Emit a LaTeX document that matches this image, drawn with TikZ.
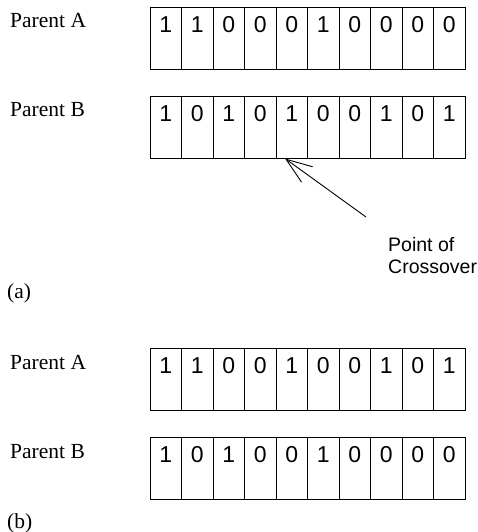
\documentclass[tikz,border=0pt]{standalone}
\usepackage{fontspec}
\setmainfont{Liberation Serif}
\setsansfont{Liberation Sans}
\usetikzlibrary{arrows.meta}
\newcommand\chromrow[3]{%
  \foreach \d [count=\i] in {#3} {
    \node[cell, anchor=north west] (#1-\i) at ({149.5pt+(\i-1)*31.5pt}, #2) {\d};
  }}
\begin{document}
\begin{tikzpicture}[x=1pt,y=1pt,
  cell/.style={draw, line width=0.9pt, inner sep=0pt, minimum width=31.5pt,
    text height=25.5pt, text depth=36.5pt, font=\sffamily\fontsize{23pt}{25pt}\selectfont},
  lbl/.style={anchor=base west, inner sep=0pt, font=\rmfamily\fontsize{21.5pt}{24pt}\selectfont},
  note/.style={anchor=base west, inner sep=0pt, font=\sffamily\fontsize{19.5pt}{22pt}\selectfont}]
\useasboundingbox (0,0) rectangle (477,-532);
% (a)
\node[lbl] (pa1) at (10,-28) {Parent A};
\chromrow{aA}{-7pt}{1,1,0,0,0,1,0,0,0,0}
\node[lbl] (pb1) at (10,-117) {Parent B};
\chromrow{aB}{-96pt}{1,0,1,0,1,0,0,1,0,1}
\coordinate (tip) at (285,-158.5);
\coordinate (tail) at (366,-217);
\draw[line width=0.9pt, -{Straight Barb[length=26pt,width=19pt,line width=0.9pt]}] (tail) -- (tip);
\node[note] (poc1) at (388,-251) {Point of};
\node[note] (poc2) at (388,-273) {Crossover};
\node[lbl] (la) at (7,-298) {(a)};
% (b)
\node[lbl] (pa2) at (10,-369) {Parent A};
\chromrow{bA}{-348pt}{1,1,0,0,1,0,0,1,0,1}
\node[lbl] (pb2) at (10,-458) {Parent B};
\chromrow{bB}{-437pt}{1,0,1,0,0,1,0,0,0,0}
\node[lbl] (lb) at (7,-528) {(b)};
\end{tikzpicture}
\end{document}
